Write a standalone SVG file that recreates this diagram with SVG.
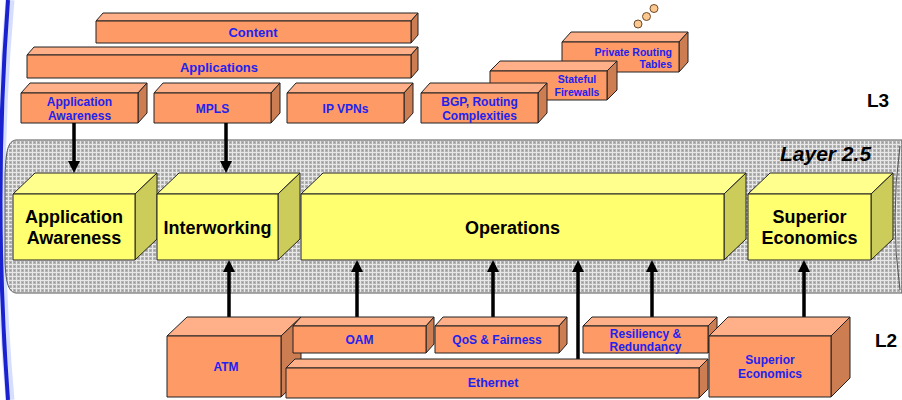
<svg xmlns="http://www.w3.org/2000/svg" width="902" height="400" viewBox="0 0 902 400">
  <style>
    .box { stroke: #222; stroke-width: 1; stroke-linejoin: round; }
    .o-front { fill: #fd9a66; }
    .o-top { fill: #ffb088; }
    .o-side { fill: #cd7d52; }
    .y-front { fill: #ffff70; }
    .y-top { fill: #ffff8e; }
    .y-side { fill: #cccc5a; }
    .blue { font-family: "Liberation Sans", Arial, sans-serif; font-weight: bold; fill: #2222ee; text-anchor: middle; stroke: none; }
    .blue.end { text-anchor: end; }
    .black { font-family: "Liberation Sans", Arial, sans-serif; font-weight: bold; fill: #000; text-anchor: middle; font-size: 18px; stroke: none; }
    .layer { font-family: "Liberation Sans", Arial, sans-serif; font-weight: bold; fill: #000; font-size: 19px; }
    .layer.title { font-size: 21px; font-style: italic; }
    .conn { stroke: #000; stroke-width: 3.5; fill: none; marker-end: url(#head); }
  </style>
  <defs>
    <pattern id="mesh" width="4" height="4" patternUnits="userSpaceOnUse">
      <rect width="4" height="4" fill="#b4b4b4"/>
      <path d="M0 0.5H4M0.5 0V4" stroke="#e8e8e8" stroke-width="1"/>
      <rect x="2" y="2" width="1" height="1" fill="#969696"/>
    </pattern>
    <marker id="head" viewBox="0 0 12 12" markerWidth="12" markerHeight="12" refX="2" refY="6" orient="auto" markerUnits="userSpaceOnUse">
      <path d="M0 0L12 6L0 12Z" fill="#000"/>
    </marker>
  </defs>

  <rect width="902" height="400" fill="#fff"/>

  <!-- blue edge arc on the left -->
  <path d="M 10 0 Q -8 200 10 400" fill="none" stroke="#8aa0ff" stroke-width="9" opacity="0.35"/>
  <path d="M 8 0 Q -7 200 8 400" fill="none" stroke="#1a22d0" stroke-width="4"/>

  <!-- Layer 2.5 tube -->
  <g id="tube">
    <path d="M 16 140 L 902 140 L 902 293 L 16 293 C 9 292 6 285 5 262 L 5 175 C 6 150 8 141 16 140 Z" fill="url(#mesh)" stroke="#555" stroke-width="1"/>
    <path d="M 900 146 Q 890 218 900 290" fill="none" stroke="#555" stroke-width="1"/>
    <text class="layer title" x="780" y="161">Layer 2.5</text>
  </g>

  <text class="layer" x="867" y="107">L3</text>
  <text class="layer" x="875" y="347">L2</text>

  <!-- L3 boxes -->
  <g id="content" class="box">
    <polygon class="o-top" points="96,21 103,13 418,13 411,21"/>
    <polygon class="o-side" points="411,21 418,13 418,35 411,43"/>
    <rect class="o-front" x="96" y="21" width="315" height="22"/>
    <text class="blue" x="253" y="37" font-size="13">Content</text>
  </g>
  <g id="applications" class="box">
    <polygon class="o-top" points="27,55 34,47 418,47 411,55"/>
    <polygon class="o-side" points="411,55 418,47 418,70 411,78"/>
    <rect class="o-front" x="27" y="55" width="384" height="23"/>
    <text class="blue" x="219" y="72" font-size="13">Applications</text>
  </g>
  <g id="app-awareness-l3" class="box">
    <polygon class="o-top" points="21,93 30,83 147,83 138,93"/>
    <polygon class="o-side" points="138,93 147,83 147,113 138,123"/>
    <rect class="o-front" x="21" y="93" width="117" height="30"/>
    <text class="blue" font-size="12"><tspan x="79.5" y="106">Application</tspan><tspan x="79.5" y="120">Awareness</tspan></text>
  </g>
  <g id="mpls" class="box">
    <polygon class="o-top" points="154,93 163,83 280,83 271,93"/>
    <polygon class="o-side" points="271,93 280,83 280,113 271,123"/>
    <rect class="o-front" x="154" y="93" width="117" height="30"/>
    <text class="blue" x="212.5" y="113" font-size="12">MPLS</text>
  </g>
  <g id="ip-vpns" class="box">
    <polygon class="o-top" points="287,93 296,83 413,83 404,93"/>
    <polygon class="o-side" points="404,93 413,83 413,113 404,123"/>
    <rect class="o-front" x="287" y="93" width="117" height="30"/>
    <text class="blue" x="345.5" y="113" font-size="12">IP VPNs</text>
  </g>
  <g id="private-routing" class="box">
    <polygon class="o-top" points="562,42 571,32 688,32 679,42"/>
    <polygon class="o-side" points="679,42 688,32 688,62 679,72"/>
    <rect class="o-front" x="562" y="42" width="117" height="30"/>
    <text class="blue end" font-size="10.5"><tspan x="672" y="56">Private Routing</tspan><tspan x="672" y="68">Tables</tspan></text>
  </g>
  <g id="stateful-firewalls" class="box">
    <polygon class="o-top" points="490,71 500,61 617,61 607,71"/>
    <polygon class="o-side" points="607,71 617,61 617,90 607,100"/>
    <rect class="o-front" x="490" y="71" width="117" height="29"/>
    <text class="blue" font-size="10.5"><tspan x="577" y="83">Stateful</tspan><tspan x="577" y="96">Firewalls</tspan></text>
  </g>
  <g id="bgp" class="box">
    <polygon class="o-top" points="421,93 430,83 547,83 538,93"/>
    <polygon class="o-side" points="538,93 547,83 547,113 538,123"/>
    <rect class="o-front" x="421" y="93" width="117" height="30"/>
    <text class="blue" font-size="12"><tspan x="479.5" y="106">BGP, Routing</tspan><tspan x="479.5" y="120">Complexities</tspan></text>
  </g>
  <g id="more" stroke="#6b4a2a" stroke-width="1" fill="#fcc890">
    <circle cx="638" cy="24" r="4"/>
    <circle cx="646.5" cy="16.5" r="4"/>
    <circle cx="654" cy="8.5" r="4"/>
  </g>

  <!-- Layer 2.5 boxes -->
  <g id="app-awareness" class="box">
    <polygon class="y-top" points="13,194 35,173 157,173 135,194"/>
    <polygon class="y-side" points="135,194 157,173 157,239 135,260"/>
    <rect class="y-front" x="13" y="194" width="122" height="66"/>
    <text class="black"><tspan x="74" y="223">Application</tspan><tspan x="74" y="244">Awareness</tspan></text>
  </g>
  <g id="interworking" class="box">
    <polygon class="y-top" points="157,194 179,173 300,173 278,194"/>
    <polygon class="y-side" points="278,194 300,173 300,239 278,260"/>
    <rect class="y-front" x="157" y="194" width="121" height="66"/>
    <text class="black" x="217.5" y="234">Interworking</text>
  </g>
  <g id="operations" class="box">
    <polygon class="y-top" points="301,194 323,173 746,173 724,194"/>
    <polygon class="y-side" points="724,194 746,173 746,239 724,260"/>
    <rect class="y-front" x="301" y="194" width="423" height="66"/>
    <text class="black" x="512.5" y="234">Operations</text>
  </g>
  <g id="superior-economics" class="box">
    <polygon class="y-top" points="748,194 770,173 893,173 871,194"/>
    <polygon class="y-side" points="871,194 893,173 893,239 871,260"/>
    <rect class="y-front" x="748" y="194" width="123" height="66"/>
    <text class="black"><tspan x="809.5" y="223">Superior</tspan><tspan x="809.5" y="244">Economics</tspan></text>
  </g>

  <!-- connectors -->
  <g id="connectors">
    <line class="conn" x1="74" y1="123" x2="74" y2="163"/>
    <line class="conn" x1="226" y1="123" x2="226" y2="163"/>
    <line class="conn" x1="229" y1="317" x2="229" y2="270"/>
    <line class="conn" x1="357" y1="317" x2="357" y2="270"/>
    <line class="conn" x1="493" y1="317" x2="493" y2="270"/>
    <line class="conn" x1="578" y1="359" x2="578" y2="270"/>
    <line class="conn" x1="652" y1="317" x2="652" y2="270"/>
    <line class="conn" x1="804" y1="317" x2="804" y2="270"/>
  </g>

  <!-- L2 boxes -->
  <g id="atm" class="box">
    <polygon class="o-top" points="167,336 187,317 301,317 281,336"/>
    <polygon class="o-side" points="281,336 301,317 301,378 281,397"/>
    <rect class="o-front" x="167" y="336" width="114" height="61"/>
    <text class="blue" x="226" y="371" font-size="12">ATM</text>
  </g>
  <g id="oam" class="box">
    <polygon class="o-top" points="293,326 301,317 434,317 426,326"/>
    <polygon class="o-side" points="426,326 434,317 434,344 426,353"/>
    <rect class="o-front" x="293" y="326" width="133" height="27"/>
    <text class="blue" x="359.5" y="343.5" font-size="12">OAM</text>
  </g>
  <g id="qos" class="box">
    <polygon class="o-top" points="435,326 443,317 567,317 559,326"/>
    <polygon class="o-side" points="559,326 567,317 567,344 559,353"/>
    <rect class="o-front" x="435" y="326" width="124" height="27"/>
    <text class="blue" x="497" y="343.5" font-size="12">QoS &amp; Fairness</text>
  </g>
  <g id="resiliency" class="box">
    <polygon class="o-top" points="583,326 592,317 717,317 708,326"/>
    <polygon class="o-side" points="708,326 717,317 717,344 708,353"/>
    <rect class="o-front" x="583" y="326" width="125" height="27"/>
    <text class="blue" font-size="12"><tspan x="645.5" y="337.5">Resiliency &amp;</tspan><tspan x="645.5" y="351">Redundancy</tspan></text>
  </g>
  <g id="ethernet" class="box">
    <polygon class="o-top" points="286,368 295,359 708,359 699,368"/>
    <polygon class="o-side" points="699,368 708,359 708,389 699,398"/>
    <rect class="o-front" x="286" y="368" width="413" height="30"/>
    <text class="blue" x="493" y="386.5" font-size="12.5">Ethernet</text>
  </g>
  <g id="superior-economics-l2" class="box">
    <polygon class="o-top" points="709,336 728,317 850,317 831,336"/>
    <polygon class="o-side" points="831,336 850,317 850,378 831,397"/>
    <rect class="o-front" x="709" y="336" width="122" height="61"/>
    <text class="blue" font-size="12"><tspan x="770" y="364">Superior</tspan><tspan x="770" y="377.5">Economics</tspan></text>
  </g>
</svg>
